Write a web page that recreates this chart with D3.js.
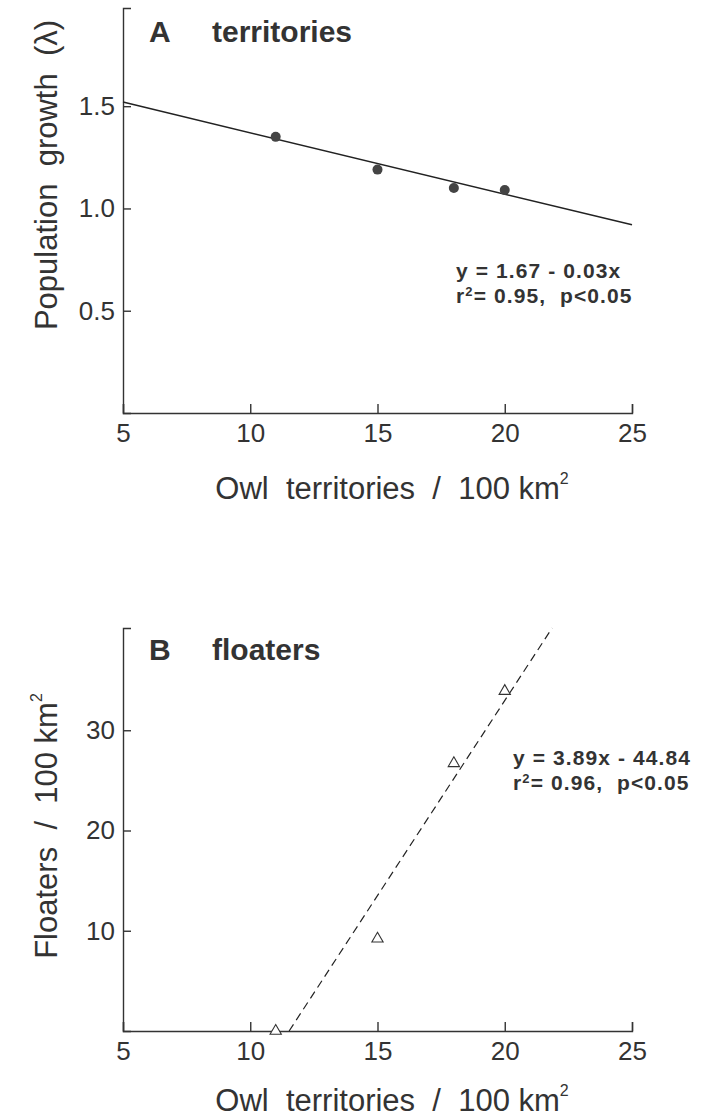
<!DOCTYPE html>
<html lang="en">
<head>
    <meta charset="UTF-8">
    <title>Owl territories</title>
    <script src="https://cdn.jsdelivr.net/npm/d3@7"></script>
    <style>
        body { margin: 0; background: #fff; }
        svg text { font-family: "Liberation Sans", Arial, sans-serif; fill: #333; white-space: pre; }
        .domain, .tick line { stroke: #333; stroke-width: 1.4px; }
    </style>
</head>
<body>
    <div id="chart"></div>
    <script>
        // values
        const owlTerritories = [11, 15, 18, 20];
        const lambdaValues = [1.35, 1.19, 1.10, 1.09];
        const floaterValues = [0, 9.2, 26.7, 33.9];

        const xTicks = [5, 10, 15, 20, 25];
        const lambdaTicks = [0.5, 1.0, 1.5];
        const floaterTicks = [10, 20, 30];

        // regression lines: [intercept, slope]
        const fitA = [1.67, -0.03];
        const fitB = [-44.84, 3.89];

        const width = 714, height = 1120;

        const svg = d3.select("#chart").append("svg")
            .attr("width", width)
            .attr("height", height);

        const x = d3.scaleLinear().domain([5, 25]).range([123, 632]);

        // Draws axes + labels for one panel, returns y scale
        function drawPanel(yDomain, yRange, yTicks, yFormat, yTitle, yTitleCenter, xTitleOffset) {
            const y = d3.scaleLinear().domain(yDomain).range(yRange);
            const g = svg.append("g");

            g.append("g")
                .attr("transform", `translate(0,${yRange[0]})`)
                .call(d3.axisBottom(x).tickValues(xTicks).tickSize(-9).tickSizeOuter(-9).tickPadding(11))
                .call(a => a.selectAll("text").attr("font-size", 26).attr("fill", "#333"));

            g.append("g")
                .attr("transform", `translate(123,0)`)
                .call(d3.axisLeft(y).tickValues(yTicks).tickFormat(yFormat).tickSize(-8).tickSizeOuter(-8).tickPadding(8))
                .call(a => a.selectAll("text").attr("font-size", 26).attr("fill", "#333"));

            // x title
            const xt = g.append("text")
                .attr("x", 392)
                .attr("y", yRange[0] + xTitleOffset)
                .attr("text-anchor", "middle")
                .attr("font-size", 31);
            xt.append("tspan").text("Owl  territories  /  100 km");
            xt.append("tspan").attr("font-size", 16).attr("dy", -15).text("2");

            // y title
            const yt = g.append("text")
                .attr("transform", `translate(57,${yTitleCenter}) rotate(-90)`)
                .attr("text-anchor", "middle")
                .attr("font-size", 31);
            yTitle(yt);
            return y;
        }

        function panelLabel(letter, word, baseline) {
            svg.append("text").attr("x", 149).attr("y", baseline)
                .attr("font-size", 30).attr("font-weight", "bold").attr("fill", "#3a3a3a")
                .text(letter);
            svg.append("text").attr("x", 212).attr("y", baseline)
                .attr("font-size", 30).attr("font-weight", "bold").attr("fill", "#3a3a3a")
                .text(word);
        }

        function equation(lines, left, baseline) {
            lines.forEach((parts, i) => {
                const t = svg.append("text")
                    .attr("x", left)
                    .attr("y", baseline + i * 25)
                    .attr("font-size", 21)
                    .attr("font-weight", "bold")
                    .attr("fill", "#3a3a3a")
                    .attr("letter-spacing", 1.1);
                parts.forEach(p => {
                    const s = t.append("tspan").text(p.t);
                    if (p.sup) s.attr("font-size", 13).attr("dy", -7);
                    if (p.down) s.attr("dy", 7);
                });
            });
        }

        // ---- Panel A ----
        const yA = drawPanel([0, 1.98], [413, 8], lambdaTicks, d3.format(".1f"),
            t => t.text("Population  growth  (λ)"), 175, 86);

        svg.append("line")
            .attr("x1", x(5)).attr("y1", yA(fitA[0] + fitA[1] * 5))
            .attr("x2", x(25)).attr("y2", yA(fitA[0] + fitA[1] * 25))
            .attr("stroke", "#222").attr("stroke-width", 1.5);

        svg.append("g").selectAll("circle")
            .data(owlTerritories)
            .join("circle")
            .attr("cx", d => x(d))
            .attr("cy", (d, i) => yA(lambdaValues[i]))
            .attr("r", 5)
            .attr("fill", "#444");

        panelLabel("A", "territories", 42);
        equation([
            [{ t: "y = 1.67 - 0.03x" }],
            [{ t: "r" }, { t: "2", sup: true }, { t: "= 0.95,  p<0.05", down: true }]
        ], 456, 278);

        // ---- Panel B ----
        const yB = drawPanel([0, 40.2], [1031, 628], floaterTicks, d3.format("d"),
            t => {
                t.append("tspan").text("Floaters  /  100 km");
                t.append("tspan").attr("font-size", 16).attr("dy", -15).text("2");
            }, 826, 80);

        const yTop = yB.domain()[1];
        svg.append("line")
            .attr("x1", x(-fitB[0] / fitB[1])).attr("y1", yB(0))
            .attr("x2", x((yTop - fitB[0]) / fitB[1])).attr("y2", yB(yTop))
            .attr("stroke", "#222").attr("stroke-width", 1.2)
            .attr("stroke-dasharray", "8,5");

        svg.append("g").selectAll("path")
            .data(owlTerritories)
            .join("path")
            .attr("transform", (d, i) => `translate(${x(d)},${yB(floaterValues[i])})`)
            .attr("d", d3.symbol(d3.symbolTriangle, 55))
            .attr("fill", "#fff")
            .attr("stroke", "#333")
            .attr("stroke-width", 1.1);

        panelLabel("B", "floaters", 660);
        equation([
            [{ t: "y = 3.89x - 44.84" }],
            [{ t: "r" }, { t: "2", sup: true }, { t: "= 0.96,  p<0.05", down: true }]
        ], 513, 765);
    </script>
</body>
</html>
